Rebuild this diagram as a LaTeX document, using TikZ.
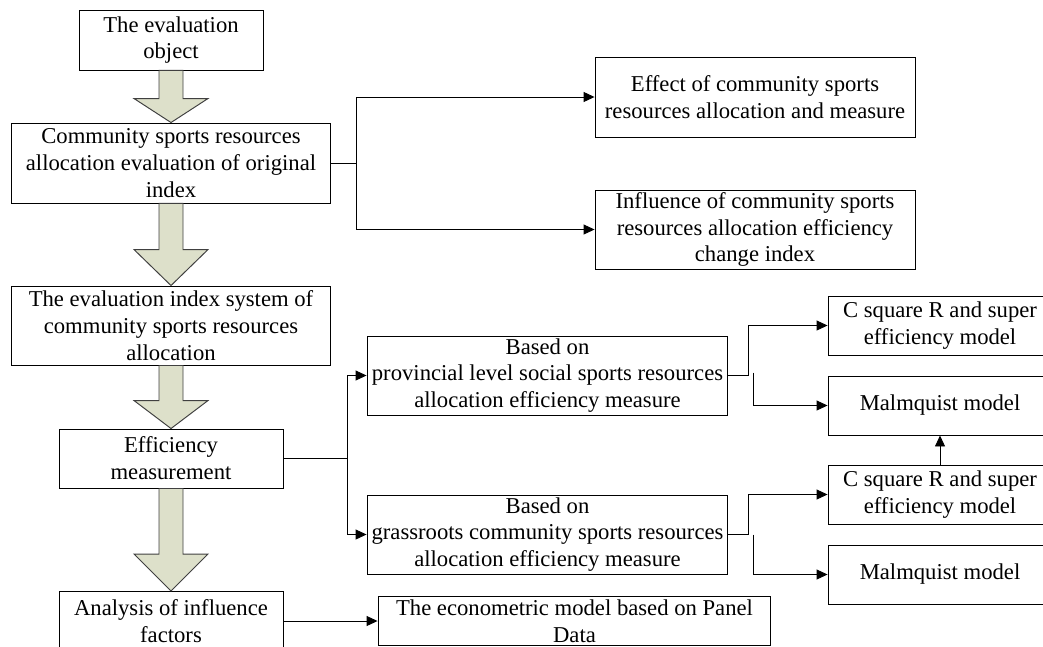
\documentclass[tikz,border=0pt]{standalone}
\usepackage{fontspec}
\setmainfont{Liberation Serif}
\usetikzlibrary{calc}
\usetikzlibrary{arrows.meta}
\definecolor{arrowfill}{RGB}{221,224,202}
\tikzset{%
  myedge/.style={-{Triangle[length=2.2mm,width=2mm]}, line width=0.55pt},
  plainedge/.style={line width=0.55pt},
  mybox/.style={draw=black, line width=0.55pt, align=center, inner sep=0pt,
    font=\fontsize{12.9}{15.3}\selectfont},
  bigarrow/.style={draw=black!75, fill=arrowfill, line width=0.55pt}
}

\begin{document}
\begin{tikzpicture}[x=0.02cm, y=-0.02cm]
  \useasboundingbox (0,0) rectangle (1043,646);

% main column
\node [mybox, minimum width=3.68cm, minimum height=1.2cm] (obj) at (171,40) {The evaluation\\object};
\node [mybox, minimum width=6.4cm, minimum height=1.6cm] (orig) at (171,163) {Community sports resources\\allocation evaluation of original\\index};
\node [mybox, minimum width=6.4cm, minimum height=1.58cm] (sys) at (171,325.5) {The evaluation index system of\\community sports resources\\allocation};
\node [mybox, minimum width=4.48cm, minimum height=1.18cm] (eff) at (171,458.5) {Efficiency\\measurement};
\node [mybox, minimum width=4.48cm, minimum height=1.18cm] (anal) at (171,621) {Analysis of influence\\factors};

% right hand boxes
\node [mybox, minimum width=6.4cm, minimum height=1.6cm] (effect) at (755,97) {Effect of community sports\\resources allocation and measure};
\node [mybox, minimum width=6.4cm, minimum height=1.58cm] (infl) at (755,229.5) {Influence of community sports\\resources allocation efficiency\\change index};
\node [mybox, minimum width=7.22cm, minimum height=1.58cm] (prov) at (547.5,375.5) {Based on\\provincial level social sports resources\\allocation efficiency measure};
\node [mybox, minimum width=7.22cm, minimum height=1.58cm] (grass) at (547.5,534.5) {Based on\\grassroots community sports resources\\allocation efficiency measure};
\node [mybox, minimum width=7.86cm, minimum height=0.98cm] (panel) at (574.5,621) {The econometric model based on Panel\\Data};

\node [mybox, minimum width=4.48cm, minimum height=1.18cm] (csA) at (940,325.5) {C square R and super\\efficiency model};
\node [mybox, minimum width=4.48cm, minimum height=1.18cm] (mqA) at (940,405.5) {Malmquist model};
\node [mybox, minimum width=4.48cm, minimum height=1.18cm] (csB) at (940,494.5) {C square R and super\\efficiency model};
\node [mybox, minimum width=4.48cm, minimum height=1.18cm] (mqB) at (940,574.5) {Malmquist model};

% block arrows
\foreach \a / \b / \h in {obj/orig/24, orig/sys/36, sys/eff/28, eff/anal/37}{
  \draw [bigarrow] ($(\a.south)+(-12,0)$) -- ($(\b.north)+(-12,-\h)$) -- ($(\b.north)+(-37,-\h)$)
    -- (\b.north) -- ($(\b.north)+(37,-\h)$) -- ($(\b.north)+(12,-\h)$) -- ($(\a.south)+(12,0)$) -- cycle;
}

% branches
\coordinate (J1) at ($(orig.east)+(25,0)$);
\draw [plainedge] (orig.east) -- (J1);
\draw [myedge] (J1) |- (effect.west);
\draw [myedge] (J1) |- (infl.west);

\coordinate (J2) at ($(eff.east)+(64,0)$);
\draw [plainedge] (eff.east) -- (J2);
\draw [myedge] (J2) |- (prov.west);
\draw [myedge] (J2) |- (grass.west);

\coordinate (J3) at ($(prov.east)+(20,0)$);
\coordinate (K3) at ($(prov.east)+(25,-3)$);
\draw [myedge] (prov.east) -- (J3) |- (csA.west);
\draw [myedge] (K3) |- (mqA.west);

\coordinate (J4) at ($(grass.east)+(20,0)$);
\coordinate (K4) at ($(grass.east)+(25,0)$);
\draw [myedge] (grass.east) -- (J4) |- (csB.west);
\draw [myedge] (K4) |- (mqB.west);

\draw [myedge] (csB.north) -- (mqA.south);
\draw [myedge] (anal.east) -- (panel.west);

\end{tikzpicture}
\end{document}
